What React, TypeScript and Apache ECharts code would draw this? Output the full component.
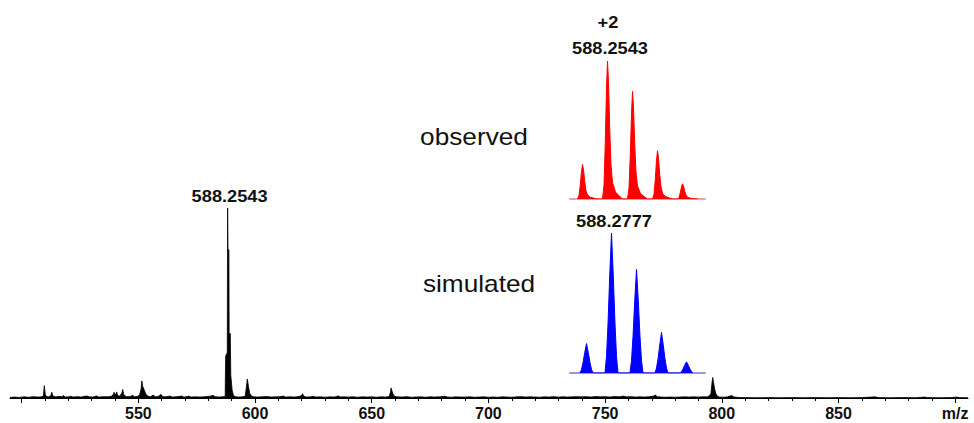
import React, { useEffect, useRef } from "react";
import * as echarts from "echarts";

// ---- main spectrum: [m/z, relative intensity %] ----
const mainSpectrum: [number, number][] = [
  [495, 0.3], [497, 0.5], [499, 0.3], [501, 0.6], [503, 0.4], [505, 0.7], [507, 0.5], [508.5, 0.6],
  [509.3, 1], [509.7, 6.5], [510.1, 2], [510.6, 0.8], [511.5, 0.6], [512.5, 1.2], [512.9, 3], [513.4, 1],
  [514.5, 0.6], [516, 0.8], [517.5, 0.7], [517.9, 1.4], [518.5, 0.5], [520, 0.6], [521, 0.9], [522, 0.5],
  [524, 0.7], [525.5, 0.5], [527, 0.9], [528, 1], [529, 0.6], [530.5, 0.5], [532.2, 1.1], [533, 0.5],
  [535, 0.7], [537, 0.6], [538.5, 0.9], [539.3, 2], [539.6, 3], [540, 1.5], [540.4, 2.2], [540.7, 3.2],
  [541.2, 1.2], [542, 1], [542.9, 2.5], [543.3, 4.5], [543.8, 1.5], [545, 0.7], [546.5, 0.8], [547.6, 1.4],
  [548.3, 0.6], [549.5, 0.8], [550.5, 1.5], [551.2, 5], [551.5, 9], [551.9, 6], [552.6, 4], [553.3, 1.8],
  [554.2, 0.9], [555.3, 0.7], [556.4, 1.6], [557.2, 0.6], [558.5, 0.8], [559.7, 1.9], [560.5, 0.6], [562, 0.7],
  [563.6, 1], [564.5, 0.5], [566.5, 0.7], [568.6, 1], [569.5, 0.5], [570.8, 0.7], [571.7, 1], [572.5, 0.5],
  [574.5, 0.6], [576.5, 0.5], [578.5, 0.7], [580.5, 0.9], [581.5, 1.2], [582.1, 1.3], [583, 0.7], [584.5, 0.5],
  [586, 0.6], [587.2, 0.8], [587.4, 22], [588.1, 24], [588.25, 100], [588.4, 78], [588.8, 78], [588.9, 34],
  [589.4, 34], [589.6, 12], [590.2, 4], [590.8, 1.2], [591.8, 0.6], [593, 0.5], [594.5, 0.6], [595.8, 1],
  [596.2, 5], [596.7, 10], [597.2, 6], [597.7, 2.5], [598.5, 1], [599.5, 0.6], [601, 0.5], [603, 0.6],
  [605, 0.8], [607, 0.5], [609, 0.6], [610.5, 0.7], [612.1, 1], [613, 0.5], [615, 0.6], [617, 0.5],
  [619, 0.8], [620.1, 1.5], [620.4, 2.3], [620.8, 1], [622, 0.5], [624, 0.6], [625, 0.9], [626, 0.5],
  [628, 0.6], [630, 0.4], [632, 0.6], [634, 0.5], [635.7, 1.1], [636.5, 0.5], [638, 0.6], [640, 0.5],
  [642, 0.6], [644, 0.4], [646, 0.6], [648, 0.5], [650, 0.6], [652, 0.4], [654, 0.6], [656, 0.5],
  [657.5, 0.8], [658, 3], [658.3, 5.3], [658.8, 3.2], [659.3, 1.6], [660, 0.8], [661, 0.6], [663, 0.5],
  [665, 0.7], [667, 0.4], [669, 0.5], [671, 0.6], [673, 0.4], [675, 0.6], [677, 0.5], [679, 0.6],
  [681.4, 0.9], [682.5, 0.5], [684, 0.4], [686, 0.6], [688, 0.5], [690, 0.5], [692, 0.6], [694, 0.4],
  [696, 0.5], [698, 0.6], [700, 0.4], [702, 0.5], [704, 0.4], [706, 0.6], [708, 0.5], [710, 0.4],
  [712, 0.6], [714, 0.7], [716, 0.5], [718, 0.6], [720, 0.5], [722, 0.4], [724, 0.6], [726, 0.5],
  [728, 0.7], [730, 0.5], [732, 0.6], [734, 0.5], [736, 0.6], [738, 0.7], [740, 0.6], [742, 0.7],
  [744, 0.5], [746, 0.8], [748, 0.6], [750, 0.7], [752, 0.5], [754, 0.8], [756, 0.6], [757.9, 1],
  [759, 0.6], [761, 0.7], [763, 0.5], [765, 0.6], [767, 0.5], [769, 0.7], [770.8, 1], [771.5, 1.6],
  [772.3, 0.7], [774, 0.5], [776, 0.4], [778, 0.5], [780, 0.4], [782, 0.5], [784, 0.6], [786, 0.5],
  [788, 0.6], [790, 0.5], [792, 0.6], [794, 0.6], [795.3, 2], [795.7, 7], [796.1, 10.8], [796.5, 8],
  [796.9, 5], [797.4, 2.5], [798, 1], [799, 0.5], [801, 0.4], [802.5, 0.6], [803.5, 1], [804.3, 1.3],
  [805, 0.6], [807, 0.3], [810, 0.2], [815, 0.15], [820, 0.2], [825, 0.15], [830, 0.2], [835, 0.15],
  [840, 0.2], [845, 0.15], [850, 0.2], [855, 0.15], [860, 0.2], [865.8, 0.6], [867, 0.2], [872, 0.15],
  [878, 0.2], [883, 0.15], [887, 0.5], [888, 0.2], [893, 0.15], [898, 0.2], [900.7, 0.5], [902, 0.2],
  [905.5, 0.15],
];

// ---- observed isotope pattern (+2) ----
const observedPattern: [number, number][] = [
  [587.65, 0], [587.68, 2.5], [587.705, 10], [587.73, 20], [587.75, 25], [587.77, 21], [587.795, 12.5], [587.82, 6], [587.85, 3], [587.91, 1.2], [587.99, 0.5], [588.05, 0],
  [588.15, 0], [588.18, 10], [588.205, 40], [588.23, 80], [588.25, 100], [588.27, 85], [588.295, 50], [588.32, 25], [588.35, 12], [588.41, 5], [588.49, 2], [588.55, 0],
  [588.65, 0], [588.68, 7.8], [588.705, 31], [588.73, 62], [588.75, 78], [588.77, 66], [588.795, 39], [588.82, 19.5], [588.85, 9.4], [588.91, 3.9], [588.99, 1.6], [589.05, 0],
  [589.15, 0], [589.18, 3.5], [589.205, 14], [589.23, 28], [589.25, 35], [589.27, 30], [589.295, 17.5], [589.32, 8.8], [589.35, 4.2], [589.41, 1.8], [589.49, 0.7], [589.55, 0],
  [589.65, 0], [589.68, 1.1], [589.705, 4.4], [589.73, 8.8], [589.75, 11], [589.77, 9.4], [589.795, 5.5], [589.82, 2.8], [589.85, 1.3], [589.91, 0.6], [589.99, 0.2], [590.05, 0],
];

// ---- simulated isotope pattern ----
const simulatedPattern: [number, number][] = [
  [587.65, 0], [587.68, 2.5], [587.71, 7.4], [587.745, 14.7], [587.78, 21], [587.815, 14.7], [587.85, 7.4], [587.88, 2.5], [587.91, 0],
  [588.15, 0], [588.18, 12], [588.21, 35], [588.245, 70], [588.28, 100], [588.315, 70], [588.35, 35], [588.38, 12], [588.41, 0],
  [588.65, 0], [588.68, 8.9], [588.71, 26], [588.745, 52], [588.78, 74], [588.815, 52], [588.85, 26], [588.88, 8.9], [588.91, 0],
  [589.15, 0], [589.18, 3.5], [589.21, 10], [589.245, 20], [589.28, 29], [589.315, 20], [589.35, 10], [589.38, 3.5], [589.41, 0],
  [589.65, 0], [589.68, 1], [589.71, 2.8], [589.745, 5.6], [589.78, 8], [589.815, 5.6], [589.85, 2.8], [589.88, 1], [589.91, 0],
];

const minorTicks = [500, 510, 520, 530, 540, 550, 560, 570, 580, 590, 600, 610, 620, 630, 640, 650, 660, 670, 680, 690,
  700, 710, 720, 730, 740, 750, 760, 770, 780, 790, 800, 810, 820, 830, 840, 850, 860, 870, 880, 890, 900];
const majorTicks = [500, 550, 600, 650, 700, 750, 800, 850, 900];
const tickLabels = [550, 600, 650, 700, 750, 800, 850, 900];
const axisUnitLabel = "m/z";

// annotations: [m/z, intensity, text]
const mainAnnotation: [number, number, string] = [588.25, 100, "588.2543"];
const observedAnnotation: [number, number, string] = [588.25, 100, "588.2543"];
const chargeLabel = "+2";
const simulatedAnnotation: [number, number, string] = [588.28, 100, "588.2777"];
const observedCaption = "observed";
const simulatedCaption = "simulated";

const FONT = '"Liberation Sans", Arial, sans-serif';
const SX = 1.14;

export default function App() {
  const ref = useRef<HTMLDivElement>(null);
  useEffect(() => {
    if (!ref.current) return;
    const chart = echarts.init(ref.current, undefined, { renderer: "svg" });
    const option: any = {
      animation: false,
      backgroundColor: "#ffffff",
      grid: [
        { left: 10, right: 6, top: 208, bottom: 25 },
        { left: 570, width: 135, top: 61, bottom: 224 },
        { left: 570, width: 135, top: 233, bottom: 50 },
      ],
      xAxis: [
        {
          type: "value", gridIndex: 0, min: 495, max: 905.5, position: "bottom",
          axisLine: { show: true, onZero: false, lineStyle: { color: "#000", width: 1 } },
          axisTick: { show: true, customValues: minorTicks, length: 3, lineStyle: { color: "#000", width: 1 } },
          axisLabel: {
            show: true, customValues: tickLabels, margin: 7,
            color: "#111", fontSize: 16, fontWeight: "bold", fontFamily: FONT,
            formatter: (v: number) => (v === 900 ? axisUnitLabel : String(v)),
          },
          splitLine: { show: false },
        },
        {
          type: "value", gridIndex: 0, min: 495, max: 905.5, position: "bottom", offset: 0,
          axisLine: { show: false, onZero: false },
          axisTick: { show: true, customValues: majorTicks, length: 5, lineStyle: { color: "#000", width: 1 } },
          axisLabel: { show: false },
          splitLine: { show: false },
        },
        {
          type: "value", gridIndex: 1, min: 587.5, max: 590.2,
          axisLine: { show: true, onZero: false, lineStyle: { color: "#f2a0a0", width: 2 } },
          axisTick: { show: false }, axisLabel: { show: false }, splitLine: { show: false },
        },
        {
          type: "value", gridIndex: 2, min: 587.45, max: 590.15,
          axisLine: { show: true, onZero: false, lineStyle: { color: "#9a9ad8", width: 2 } },
          axisTick: { show: false }, axisLabel: { show: false }, splitLine: { show: false },
        },
      ],
      yAxis: [
        { type: "value", gridIndex: 0, min: 0, max: 100, show: false },
        { type: "value", gridIndex: 1, min: 0, max: 100, show: false },
        { type: "value", gridIndex: 2, min: 0, max: 100, show: false },
      ],
      series: [
        {
          type: "line", xAxisIndex: 0, yAxisIndex: 0, data: mainSpectrum, symbol: "none",
          lineStyle: { color: "#000", width: 0.8 }, areaStyle: { color: "#000", opacity: 1 },
          silent: true, z: 3,
        },
        {
          type: "line", xAxisIndex: 2, yAxisIndex: 1, data: observedPattern, symbol: "none",
          lineStyle: { color: "#ff0000", width: 1 }, areaStyle: { color: "#ff0000", opacity: 1 },
          silent: true, z: 3,
        },
        {
          type: "line", xAxisIndex: 3, yAxisIndex: 2, data: simulatedPattern, symbol: "none",
          lineStyle: { color: "#0000ff", width: 1 }, areaStyle: { color: "#0000ff", opacity: 1 },
          silent: true, z: 3,
        },
      ],
    };
    chart.setOption(option);

    const pMain = chart.convertToPixel({ gridIndex: 0 } as any, [mainAnnotation[0], mainAnnotation[1]]) as number[];
    const pObs = chart.convertToPixel({ gridIndex: 1 } as any, [observedAnnotation[0], observedAnnotation[1]]) as number[];
    const pSim = chart.convertToPixel({ gridIndex: 2 } as any, [simulatedAnnotation[0], simulatedAnnotation[1]]) as number[];

    const label = (text: string, x: number, y: number, size: number, weight: string) => ({
      type: "text", x, y, scaleX: SX, silent: true, z: 10,
      style: {
        text, fill: "#111", fontSize: size, fontWeight: weight, fontFamily: FONT,
        align: "center", verticalAlign: "middle",
      },
    });

    chart.setOption({
      graphic: [
        label(mainAnnotation[2], pMain[0] + 2, pMain[1] - 12, 16, "bold"),
        label(observedAnnotation[2], pObs[0] + 2.5, pObs[1] - 12.5, 16, "bold"),
        label(chargeLabel, pObs[0] + 0.5, pObs[1] - 39, 16, "bold"),
        label(simulatedAnnotation[2], pSim[0] + 2.5, pSim[1] - 11.5, 16, "bold"),
        label(observedCaption, 474, 137, 23, "normal"),
        label(simulatedCaption, 479, 284, 23, "normal"),
      ],
    });

    return () => chart.dispose();
  }, []);
  return (
    <div
      ref={ref}
      style={{ position: "fixed", left: 0, top: 0, width: 974, height: 423, background: "#fff" }}
    />
  );
}
